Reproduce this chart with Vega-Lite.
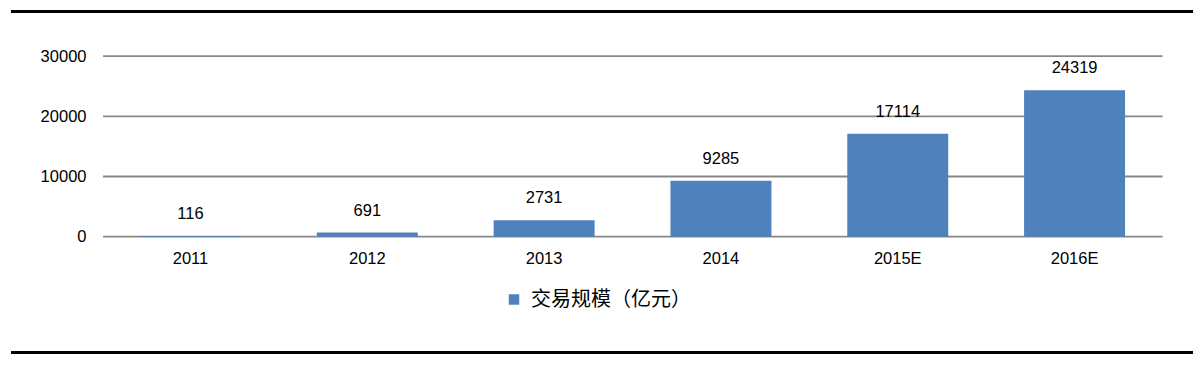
{
  "$schema": "https://vega.github.io/schema/vega-lite/v6.json",
  "autosize": "none",
  "width": 1182,
  "height": 341,
  "padding": {"left": 11, "top": 11.5, "right": 11, "bottom": 12.5},
  "background": "white",
  "config": {
    "view": {"stroke": null},
    "font": "Liberation Sans",
    "text": {"font": "Liberation Sans"}
  },
  "datasets": {
    "bars": [
      {"year": "2011", "value": 116, "series": "交易规模（亿元）"},
      {"year": "2012", "value": 691, "series": "交易规模（亿元）"},
      {"year": "2013", "value": 2731, "series": "交易规模（亿元）"},
      {"year": "2014", "value": 9285, "series": "交易规模（亿元）"},
      {"year": "2015E", "value": 17114, "series": "交易规模（亿元）"},
      {"year": "2016E", "value": 24319, "series": "交易规模（亿元）"}
    ],
    "grid": [{"v": 0}, {"v": 10000}, {"v": 20000}, {"v": 30000}],
    "frame": [{"edge": 37409}, {"edge": -19236}]
  },
  "layer": [
    {
      "data": {"name": "grid"},
      "mark": {"type": "rule", "color": "#878787", "strokeWidth": 1.8},
      "encoding": {
        "y": {"field": "v", "type": "quantitative", "scale": {"domain": [-19236, 37409], "nice": false, "zero": false},
          "axis": {"values": [0, 10000, 20000, 30000], "format": "d", "domain": false, "ticks": false, "grid": false, "labelFontSize": 16.5, "labelColor": "#000000", "labelPadding": 17, "offset": -92, "title": null, "labelFont": "Liberation Sans"}},
        "x": {"datum": "2011", "type": "nominal", "bandPosition": -0.366,
          "scale": {"domain": ["2011", "2012", "2013", "2014", "2015E", "2016E"], "paddingInner": 0.429, "paddingOuter": 0.557, "align": 0.655},
          "axis": {"orient": "bottom", "offset": -115.5, "domain": false, "ticks": false, "labelAngle": 0, "labelFontSize": 16.5, "labelColor": "#000000", "labelPadding": 13, "title": null, "labelFont": "Liberation Sans"}},
        "x2": {"datum": "2016E", "bandPosition": 1.371}
      }
    },
    {
      "data": {"name": "bars"},
      "mark": {"type": "bar"},
      "encoding": {
        "x": {"field": "year", "type": "nominal"},
        "y": {"field": "value", "type": "quantitative"},
        "color": {"field": "series", "type": "nominal", "scale": {"range": ["#4F81BD"]},
          "legend": {"orient": "none", "legendX": 493, "legendY": 278, "title": null, "symbolType": "square", "symbolSize": 110, "symbolStrokeWidth": 0, "labelFontSize": 20, "labelFont": "Noto Sans CJK SC", "labelColor": "#000000", "labelOffset": 7, "padding": 0, "labelLimit": 400}}
      }
    },
    {
      "data": {"name": "bars"},
      "mark": {"type": "text", "fontSize": 16.5, "color": "#000000", "baseline": "alphabetic", "dy": -17, "font": "Liberation Sans"},
      "encoding": {
        "x": {"field": "year", "type": "nominal"},
        "y": {"field": "value", "type": "quantitative"},
        "text": {"field": "value", "type": "quantitative", "format": "d"}
      }
    },
    {
      "data": {"name": "frame"},
      "mark": {"type": "rule", "color": "#000000", "strokeWidth": 3},
      "encoding": {
        "y": {"field": "edge", "type": "quantitative"}
      }
    }
  ]
}
